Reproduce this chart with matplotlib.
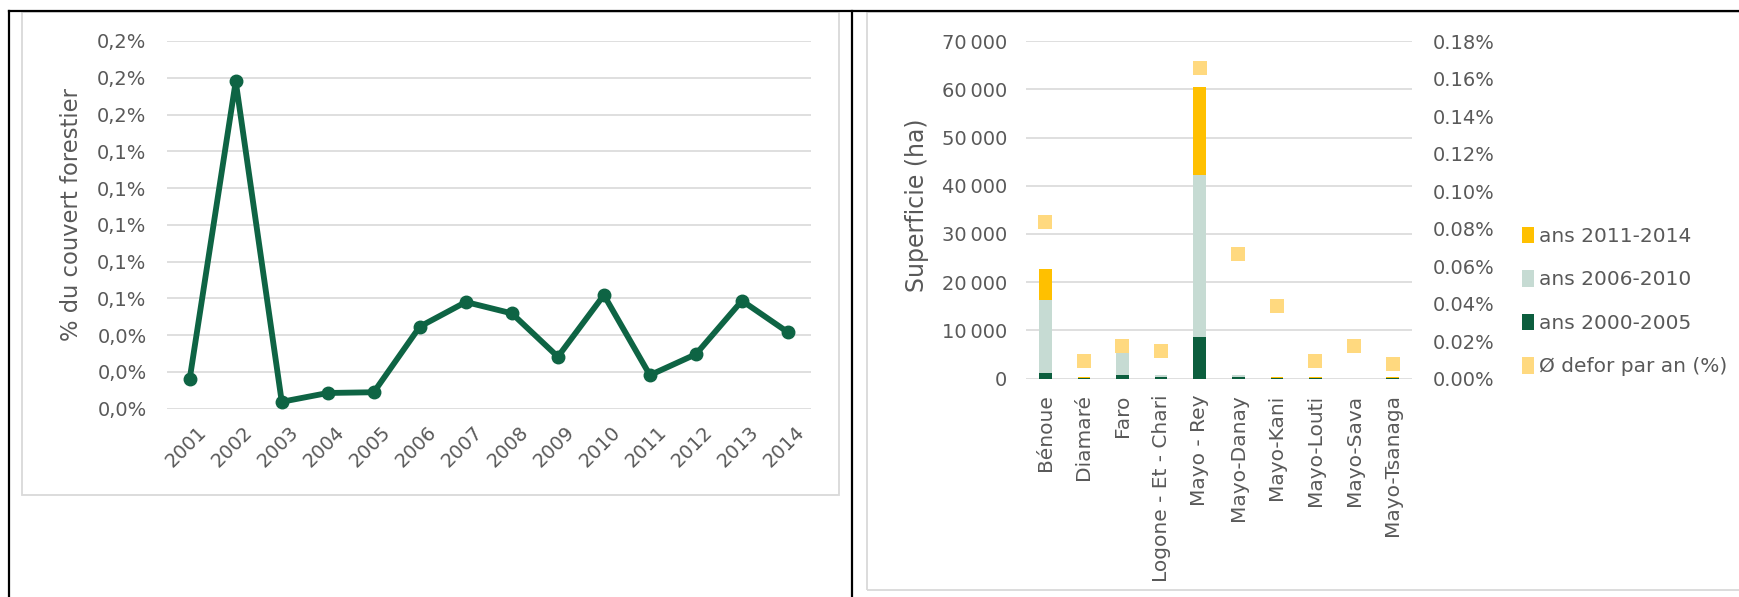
import matplotlib
matplotlib.use('Agg')
import matplotlib.pyplot as plt
import matplotlib.transforms as mtransforms
from matplotlib.lines import Line2D
from matplotlib.patches import Rectangle, Patch

plt.rcParams['font.family'] = ['DejaVu Sans']

# ---------------- data ----------------
years = ['2001', '2002', '2003', '2004', '2005', '2006', '2007',
         '2008', '2009', '2010', '2011', '2012', '2013', '2014']
couvert_pct = [0.0162, 0.178, 0.0037, 0.0085, 0.0089, 0.0446, 0.058,
               0.0518, 0.0282, 0.0618, 0.0182, 0.0296, 0.0587, 0.0415]
left_yticks = [0.00, 0.02, 0.04, 0.06, 0.08, 0.10, 0.12, 0.14, 0.16, 0.18, 0.20]
left_yticklabels = ['0,0%', '0,0%', '0,0%', '0,1%', '0,1%', '0,1%', '0,1%',
                    '0,1%', '0,2%', '0,2%', '0,2%']

departements = ['Bénoue', 'Diamaré', 'Faro', 'Logone - Et - Chari', 'Mayo - Rey',
                'Mayo-Danay', 'Mayo-Kani', 'Mayo-Louti', 'Mayo-Sava', 'Mayo-Tsanaga']
ha_2000_2005 = [1200, 50, 800, 400, 8700, 400, 30, 50, 0, 50]
ha_2006_2010 = [15100, 100, 4700, 300, 33500, 300, 100, 100, 0, 100]
ha_2011_2014 = [6500, 150, 0, 100, 18300, 100, 200, 150, 0, 150]
defor_an_pct = [0.0837, 0.0092, 0.0176, 0.0145, 0.166, 0.0665, 0.0385, 0.0092, 0.0176, 0.0078]
area_ticks = [0, 10000, 20000, 30000, 40000, 50000, 60000, 70000]
area_ticklabels = ['0', '10\u202f000', '20\u202f000', '30\u202f000', '40\u202f000',
                   '50\u202f000', '60\u202f000', '70\u202f000']
pct_ticks = [0.00, 0.02, 0.04, 0.06, 0.08, 0.10, 0.12, 0.14, 0.16, 0.18]
pct_ticklabels = ['0.00%', '0.02%', '0.04%', '0.06%', '0.08%', '0.10%',
                  '0.12%', '0.14%', '0.16%', '0.18%']
series_labels = ['ans 2011-2014', 'ans 2006-2010', 'ans 2000-2005', 'Ø defor par an (%)']

# ---------------- style ----------------
W, H = 1740, 597
GRAY_TXT = '#595959'
GRID = '#D9D9D9'
GREEN_LINE = '#0E6444'
DARK = '#0C5E3E'
LIGHT = '#C6DBD3'
ORANGE = '#FFC000'
MARK = '#FFD97F'

fig = plt.figure(figsize=(W / 100, H / 100), dpi=100)

def fx(px):
    return px / W

def fy(py):
    return 1 - py / H

# frames
fig.add_artist(Rectangle((fx(22), fy(495)), fx(839.5) - fx(22), fy(12) - fy(495),
                         transform=fig.transFigure, facecolor='none', edgecolor=GRID, lw=1.3))
fig.add_artist(Rectangle((fx(866.7), fy(590)), fx(1760) - fx(866.7), fy(12) - fy(590),
                         transform=fig.transFigure, facecolor='none', edgecolor=GRID, lw=1.3))
fig.add_artist(Line2D([fx(9), 1], [fy(10.7), fy(10.7)], transform=fig.transFigure, color='black', lw=1.6))
fig.add_artist(Line2D([fx(9), fx(9)], [0, fy(10.7)], transform=fig.transFigure, color='black', lw=1.6))
fig.add_artist(Line2D([fx(852), fx(852)], [0, fy(10.7)], transform=fig.transFigure, color='black', lw=1.6))

# ---------------- left chart ----------------
ax1 = fig.add_axes([fx(166.7), fy(408.6), fx(811) - fx(166.7), fy(41) - fy(408.6)])
x1 = list(range(len(years)))
ax1.plot(x1, couvert_pct, color=GREEN_LINE, lw=4.2, marker='o', markersize=9,
         solid_joinstyle='round', zorder=3)
ax1.set_xlim(-0.5, len(years) - 0.5)
ax1.set_ylim(0, 0.20)
ax1.set_yticks(left_yticks)
ax1.set_yticklabels(left_yticklabels)
ax1.set_xticks(x1)
ax1.set_xticklabels(years, rotation=45, ha='right', va='center', rotation_mode='anchor')
ax1.grid(axis='y', color=GRID, lw=1.2)
ax1.set_axisbelow(True)
for s in ax1.spines.values():
    s.set_visible(False)
ax1.tick_params(axis='y', length=0, pad=14.5, labelsize=14, labelcolor=GRAY_TXT)
ax1.tick_params(axis='x', length=0, pad=15, labelsize=14, labelcolor=GRAY_TXT)
offset = mtransforms.ScaledTranslation(0.135, 0, fig.dpi_scale_trans)
for lbl in ax1.get_xticklabels():
    lbl.set_transform(lbl.get_transform() + offset)
ax1.set_ylabel('% du couvert forestier', fontsize=16.3, color=GRAY_TXT)
ax1.yaxis.label.set_verticalalignment('center')
ax1.yaxis.set_label_coords((72 - 166.7) / (811 - 166.7), 0.527)

# ---------------- right chart ----------------
ax2 = fig.add_axes([fx(1026), fy(378.5), fx(1412) - fx(1026), fy(41.3) - fy(378.5)])
x2 = list(range(len(departements)))
bw = 0.33
b1 = ax2.bar(x2, ha_2000_2005, width=bw, color=DARK, zorder=2)
bottom2 = list(ha_2000_2005)
b2 = ax2.bar(x2, ha_2006_2010, width=bw, bottom=bottom2, color=LIGHT, zorder=2)
bottom3 = [a + b for a, b in zip(ha_2000_2005, ha_2006_2010)]
b3 = ax2.bar(x2, ha_2011_2014, width=bw, bottom=bottom3, color=ORANGE, zorder=2)
ax2.set_xlim(-0.5, len(departements) - 0.5)
ax2.set_ylim(0, 70000)
ax2.set_yticks(area_ticks)
ax2.set_yticklabels(area_ticklabels)
ax2.set_xticks(x2)
ax2.set_xticklabels(departements, rotation=90, ha='center', va='top')
ax2.grid(axis='y', color=GRID, lw=1.2)
ax2.set_axisbelow(True)
for s in ax2.spines.values():
    s.set_visible(False)
ax2.tick_params(axis='y', length=0, pad=13.5, labelsize=14, labelcolor=GRAY_TXT)
ax2.tick_params(axis='x', length=0, pad=11.5, labelsize=14.5, labelcolor=GRAY_TXT)
ax2.set_ylabel('Superficie (ha)', fontsize=17, color=GRAY_TXT)
ax2.yaxis.label.set_verticalalignment('center')
ax2.yaxis.set_label_coords((917.5 - 1026) / (1412 - 1026), 0.513)

ax3 = ax2.twinx()
ax3.plot(x2, defor_an_pct, linestyle='none', marker='s', markersize=10.5,
         color=MARK, markeredgewidth=0, zorder=4)
ax3.set_ylim(0, 0.18)
ax3.set_yticks(pct_ticks)
ax3.set_yticklabels(pct_ticklabels)
for s in ax3.spines.values():
    s.set_visible(False)
ax3.tick_params(axis='y', length=0, pad=15, labelsize=14, labelcolor=GRAY_TXT)

handles = [Patch(facecolor=ORANGE), Patch(facecolor=LIGHT), Patch(facecolor=DARK), Patch(facecolor=MARK)]
fig.legend(handles, series_labels, loc='center left', bbox_to_anchor=(fx(1521.7), fy(301.5)),
           frameon=False, borderpad=0, borderaxespad=0, handlelength=0.6, handleheight=0.9,
           handletextpad=0.25, labelspacing=1.2, fontsize=14.5, labelcolor=GRAY_TXT)

fig.savefig('out.png', dpi=100)
